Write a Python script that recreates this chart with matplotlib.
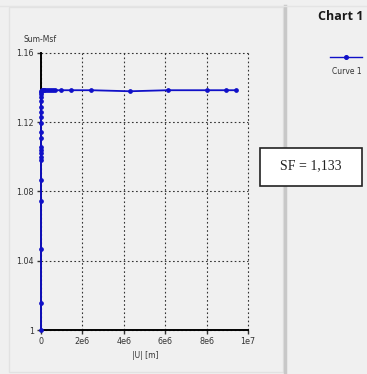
import matplotlib
matplotlib.use("Agg")
import matplotlib.pyplot as plt
from matplotlib.patches import Rectangle
from matplotlib.lines import Line2D

# Data: |U| [m] vs Sum-Msf
u_values = [0, 0, 0, 0, 0, 0, 0, 0, 0, 0, 0, 0, 0, 0, 0, 0, 0, 0, 0, 0, 0,
            0.05e6, 0.1e6, 0.15e6, 0.2e6, 0.3e6, 0.4e6, 0.5e6, 0.6e6, 0.7e6,
            0.98e6, 1.46e6, 2.42e6, 4.3e6, 6.13e6, 8.0e6, 8.93e6, 9.4e6]
msf_values = [1.0, 1.0154, 1.0466, 1.0745, 1.0866, 1.0981, 1.1000, 1.1020,
              1.1039, 1.1058, 1.1108, 1.1145, 1.1197, 1.1231, 1.1260, 1.1290,
              1.1320, 1.1345, 1.1365, 1.1375, 1.1383,
              1.1385, 1.1385, 1.1385, 1.1385, 1.1385, 1.1385, 1.1385, 1.1385, 1.1385,
              1.1385, 1.1385, 1.1385, 1.1379, 1.1385, 1.1385, 1.1385, 1.1385]

x_ticks = [0, 2e6, 4e6, 6e6, 8e6, 1e7]
x_ticklabels = ["0", "2e6", "4e6", "6e6", "8e6", "1e7"]
y_ticks = [1.0, 1.04, 1.08, 1.12, 1.16]
y_ticklabels = ["1", "1.04", "1.08", "1.12", "1.16"]

W, H = 367, 374
fig = plt.figure(figsize=(W / 100, H / 100), dpi=100)
fig.patch.set_facecolor("#f0f0f0")

def px(x, y):
    return x / W, 1 - y / H

# Panel frames
fig.add_artist(Rectangle(px(9, 372), 274 / W, 365 / H, transform=fig.transFigure,
                         facecolor="#f0f0f0", edgecolor="#e2e2e2", lw=1.0, zorder=0))
fig.add_artist(Line2D([285 / W, 285 / W], [0, 1 - 6 / H], transform=fig.transFigure,
                      color="#c8c8c8", lw=2.5))
fig.add_artist(Line2D([0, 1], [1 - 5.5 / H, 1 - 5.5 / H], transform=fig.transFigure,
                      color="#e4e4e4", lw=1.0))

ax = fig.add_axes([41 / W, 1 - 330 / H, 207 / W, 277 / H])
ax.set_facecolor("#f0f0f0")
ax.set_xlim(0, 1e7)
ax.set_ylim(1.0, 1.16)
ax.set_xticks(x_ticks)
ax.set_xticklabels(x_ticklabels)
ax.set_yticks(y_ticks)
ax.set_yticklabels(y_ticklabels)
ax.tick_params(labelsize=5.8, colors="#333333", length=3, width=1.0, pad=2)
ax.grid(True, linestyle=(0, (1.5, 2.2)), color="#333333", lw=0.8)
for gl in ax.get_xgridlines() + ax.get_ygridlines():
    gl.set_clip_on(False)
for s in ["top", "right"]:
    ax.spines[s].set_visible(False)
for s in ["left", "bottom"]:
    ax.spines[s].set_color("black")
    ax.spines[s].set_linewidth(1.4)
ax.plot(u_values, msf_values, color="#1010c8", lw=1.3, marker="o", ms=2.4,
        mec="#1010c8", mfc="#1010c8", clip_on=False, zorder=5)

fig.text(23 / W, 1 - 40 / H, "Sum-Msf", fontsize=5.5, color="#333333", va="center")
fig.text(145 / W, 1 - 356 / H, "|U| [m]", fontsize=5.5, color="#333333", ha="center", va="center")

# Right panel: title and legend
fig.text(318 / W, 1 - 17 / H, "Chart 1", fontsize=9, fontweight="bold", color="#1a1a1a",
         va="center", family="Open Sans")
fig.add_artist(Line2D([330 / W, 362 / W], [1 - 57 / H, 1 - 57 / H], transform=fig.transFigure,
                      color="#1010c8", lw=1.0))
fig.add_artist(Line2D([346 / W], [1 - 57 / H], transform=fig.transFigure,
                      color="#1010c8", marker="o", ms=2.6))
fig.text(347 / W, 1 - 72 / H, "Curve 1", fontsize=5.5, color="#333333", ha="center", va="center")

# SF box
fig.add_artist(Rectangle(px(260, 186), 102 / W, 38 / H, transform=fig.transFigure,
                         facecolor="white", edgecolor="#222222", lw=1.2, zorder=6))
fig.text(311 / W, 1 - 166 / H, "SF = 1,133", fontsize=10, family="Liberation Serif",
         color="#222222", ha="center", va="center", zorder=7)

fig.savefig("out.png", dpi=100)
